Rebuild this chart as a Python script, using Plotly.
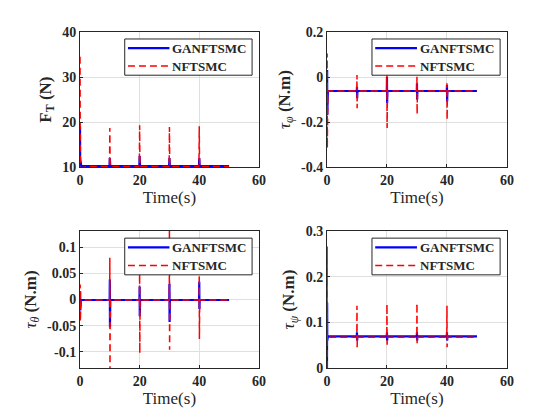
import plotly.graph_objects as go
from plotly.subplots import make_subplots

# ---------------- data ----------------
# F_T panel
FT_T_GA = [0, 0.05, 0.4, 9.9, 10.0, 10.15, 19.9, 20.0, 20.15, 29.9, 30.0, 30.15, 39.9, 40.0, 40.15, 50]
FT_Y_GA = [19.0, 12.0, 10.25, 10.25, 12.0, 10.25, 10.25, 12.5, 10.25, 10.25, 12.0, 10.25, 10.25, 12.0, 10.25, 10.25]
FT_T_NF = [0, 0.1, 0.5, 3, 9.9, 10.0, 10.1, 19.9, 20.0, 20.1, 29.9, 30.0, 30.1, 39.9, 40.0, 40.1, 50]
FT_Y_NF = [34.5, 9.8, 9.9, 10.15, 10.15, 18.7, 10.15, 10.15, 19.3, 10.15, 10.15, 18.9, 10.15, 10.15, 19.1, 10.15, 10.15]

# torque panels share one time base
TQ_T = [0, 0.05, 0.1, 0.3,
        9.95, 10.0, 10.05, 10.15,
        19.95, 20.0, 20.05, 20.15,
        29.95, 30.0, 30.05, 30.15,
        39.95, 40.0, 40.05, 40.15, 50]

PHI_GA = [-0.06, 0.031, -0.168, -0.062, -0.062, -0.043, -0.094, -0.062, -0.062, 0.0, -0.116, -0.062,
          -0.062, -0.028, -0.1, -0.062, -0.062, -0.035, -0.109, -0.062, -0.062]
PHI_NF = [-0.06, 0.104, -0.315, -0.062, -0.062, 0.009, -0.138, -0.062, -0.062, 0.02, -0.226, -0.062,
          -0.062, 0.0015, -0.165, -0.062, -0.062, -0.028, -0.19, -0.062, -0.062]

THE_GA = [0.0, 0.0158, -0.021, -0.001, -0.001, 0.038, -0.053, -0.001, -0.001, 0.025, -0.032, -0.001,
          -0.001, 0.03, -0.043, -0.001, -0.001, 0.034, -0.018, -0.001, -0.001]
THE_NF = [0.0, 0.0286, -0.042, -0.001, -0.001, 0.08, -0.145, -0.001, -0.001, 0.06, -0.103, -0.001,
          -0.001, 0.15, -0.096, -0.001, -0.001, 0.047, -0.0755, -0.001, -0.001]

PSI_GA = [0.0, 0.143, 0.06, 0.069, 0.069, 0.078, 0.06, 0.069, 0.069, 0.078, 0.06, 0.069,
          0.069, 0.078, 0.06, 0.069, 0.069, 0.078, 0.06, 0.069, 0.069]
PSI_NF = [0.0, 0.266, 0.06, 0.067, 0.067, 0.136, 0.0455, 0.067, 0.067, 0.14, 0.051, 0.067,
          0.067, 0.142, 0.054, 0.067, 0.067, 0.136, 0.0455, 0.067, 0.067]

NAMES = ["GANFTSMC", "NFTSMC"]
Y_TITLES = [
    "<b>F<sub>T</sub> (N)</b>",
    "<i>τ</i><sub><i>φ</i></sub> <b>(N.m)</b>",
    "<i>τ</i><sub><i>θ</i></sub> <b>(N.m)</b>",
    "<i>τ</i><sub><i>ψ</i></sub> <b>(N.m)</b>",
]
Y_RANGES = [[10, 40], [-0.4, 0.2], [-0.131, 0.131], [0, 0.3]]
Y_TICKS = [[10, 20, 30, 40], [-0.4, -0.2, 0, 0.2], [-0.1, -0.05, 0, 0.05, 0.1], [0, 0.1, 0.2, 0.3]]
Y_TICKTEXT = [["10", "20", "30", "40"], ["-0.4", "-0.2", "0", "0.2"],
              ["-0.1", "-0.05", "0", "0.05", "0.1"], ["0", "0.1", "0.2", "0.3"]]
X_TICKS = [0, 20, 40, 60]

SERIF = "Liberation Serif"
INK = "#262626"
BLUE = "#0000ff"
RED = "#ff0000"
RED_DASH = "7px,4px"

panels = [
    (FT_T_GA, FT_Y_GA, FT_T_NF, FT_Y_NF),
    (TQ_T, PHI_GA, TQ_T, PHI_NF),
    (TQ_T, THE_GA, TQ_T, THE_NF),
    (TQ_T, PSI_GA, TQ_T, PSI_NF),
]

fig = make_subplots(rows=2, cols=2)

for i, (tg, yg, tn, yn) in enumerate(panels):
    r, c = i // 2 + 1, i % 2 + 1
    fig.add_trace(go.Scatter(x=tg, y=yg, mode="lines", name=NAMES[0],
                             line=dict(color=BLUE, width=2.2), showlegend=False),
                  row=r, col=c)
    fig.add_trace(go.Scatter(x=tn, y=yn, mode="lines", name=NAMES[1],
                             line=dict(color=RED, width=1.5, dash=RED_DASH), showlegend=False),
                  row=r, col=c)

# page body has an 8px margin, so domains are shifted accordingly
x_domains = [[0.1286, 0.448], [0.5696, 0.891]]
y_domains = [[0.621, 0.943], [0.143, 0.469]]

axis_common = dict(
    showline=True, linecolor=INK, linewidth=1, mirror=True,
    ticks="inside", ticklen=3, tickcolor=INK,
    showgrid=True, gridcolor="#dfdfdf", gridwidth=1, zeroline=False,
    automargin=False,
    tickfont=dict(family=SERIF, size=14, color=INK, weight="bold"),
)

for i in range(4):
    r, c = i // 2 + 1, i % 2 + 1
    fig.update_xaxes(axis_common, row=r, col=c, range=[0, 60], tickvals=X_TICKS,
                     domain=x_domains[c - 1],
                     title=dict(text="Time(s)",
                                font=dict(family=SERIF, size=17, color=INK, weight="normal"),
                                standoff=1))
    fig.update_yaxes(axis_common, row=r, col=c, range=Y_RANGES[i],
                     tickvals=Y_TICKS[i], ticktext=Y_TICKTEXT[i],
                     domain=y_domains[r - 1],
                     title=dict(text=Y_TITLES[i],
                                font=dict(family=SERIF, size=17, color=INK, weight="normal"),
                                standoff=6))


# MATLAB-style compact legend box inside each panel
def add_legend_box(fig, idx):
    xs = "x" if idx == 0 else f"x{idx + 1}"
    ys = "y" if idx == 0 else f"y{idx + 1}"
    xr, yr = f"{xs} domain", f"{ys} domain"
    fig.add_shape(type="rect", xref=xr, yref=yr, x0=0.25, x1=0.962, y0=0.68, y1=0.948,
                  line=dict(color=INK, width=1), fillcolor="white", layer="above")
    rows = [(0.88, BLUE, 2.2, "solid"), (0.748, RED, 1.5, RED_DASH)]
    for (yy, col, w, dash), name in zip(rows, NAMES):
        fig.add_shape(type="line", xref=xr, yref=yr, x0=0.268, x1=0.5, y0=yy, y1=yy,
                      line=dict(color=col, width=w, dash=dash), layer="above")
        fig.add_annotation(xref=xr, yref=yr, x=0.505, y=yy, text=f"<b>{name}</b>",
                           showarrow=False, xanchor="left", yanchor="middle",
                           font=dict(family=SERIF, size=13, color=INK))


for i in range(4):
    add_legend_box(fig, i)

fig.update_layout(
    width=560, height=420,
    paper_bgcolor="white", plot_bgcolor="white",
    margin=dict(l=0, r=0, t=0, b=0),
    showlegend=False,
)

fig.write_html("out.html")
